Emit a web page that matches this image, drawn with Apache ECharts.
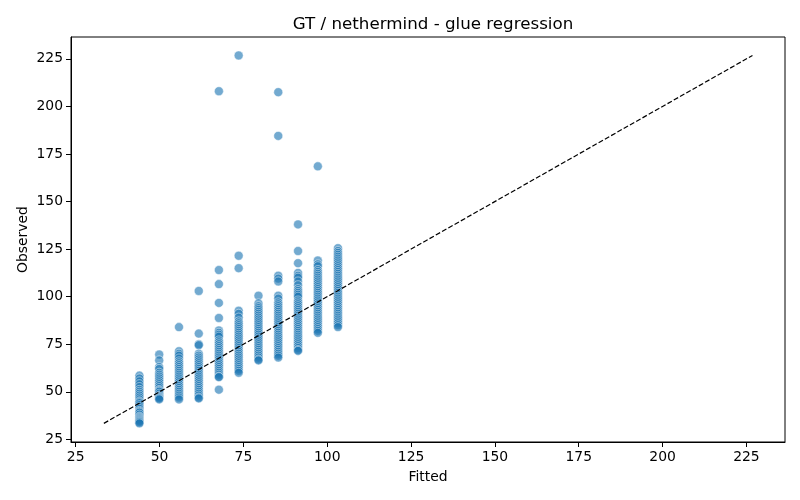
<!DOCTYPE html>
<html>
<head>
<meta charset="utf-8">
<script src="https://cdn.jsdelivr.net/npm/echarts@6/dist/echarts.min.js"></script>
<style>
  html, body { margin: 0; padding: 0; background: #fff; }
  #chart { width: 800px; height: 500px; }
</style>
</head>
<body>
<div id="chart"></div>
<script>
// fitted levels (one column of points per level)
var fitted = [44.0, 49.9, 55.8, 61.7, 67.7, 73.6, 79.5, 85.4, 91.3, 97.2, 103.2];

var obs1 = [58.5, 57, 55.5, 54, 52.5, 51, 50, 49, 48, 47, 46, 45, 44.5, 44, 43, 42, 41,
    40, 39.5, 39, 38, 37, 36.5, 36, 35.5, 35, 34.5, 34, 33.4];
var obs2 = [69.6, 66.5, 63, 62, 60, 59, 58, 57, 56, 55, 54, 53, 52, 51, 50.5, 50, 49, 48,
    47.5, 47, 46.5, 46];
var obs3 = [84, 71.3, 70, 69, 67.5, 66, 65, 64, 63, 62, 61, 60, 59, 58, 57, 56, 55, 54, 53,
    52, 51, 50, 49, 48, 47, 46];
var obs4 = [103, 80.6, 75, 74.5, 70, 69, 68, 67, 66, 65, 64, 63, 62, 61, 60, 59, 58, 57, 56,
    55, 54, 53, 52, 51, 50, 49, 48, 47, 46.5];
var obs5 = [208, 114, 106.6, 96.7, 88.8, 82.2, 81, 80, 79, 77, 76, 75, 74, 73, 72, 71, 70,
    69, 68, 67, 66, 65, 64, 63, 62, 61, 60, 59, 58, 57.7, 51.1];
var obs6 = [226.8, 121.5, 115, 92.6, 91, 89, 87, 86, 85, 84, 83, 82, 81, 80, 79, 78, 77, 76,
    75, 74, 73, 72, 71, 70, 69, 68, 67, 66, 65, 64, 63, 62, 61, 60];
var obs7 = [100.5, 96.5, 95, 94, 93, 92, 91, 90, 89, 88, 87, 86, 85, 84, 83, 82, 81, 80, 79,
    78, 77, 76, 75, 74, 73, 72, 71, 70, 69, 68, 67, 66.5];
var obs8 = [207.5, 184.5, 111, 109.5, 108, 100.5, 99, 97, 96, 95, 94, 93, 92, 91, 90, 89, 88,
    87, 86, 85, 84, 83, 82, 81, 80, 79, 78, 77, 76, 75, 74, 73, 72, 71, 70, 69, 68];
var obs9 = [138, 124, 117.6, 112.5, 111, 110, 108, 106, 104, 103, 102, 101, 100, 98, 97, 96,
    95, 94, 93, 92, 91, 90, 89, 88, 87, 86, 85, 84, 83, 82, 81, 80, 79, 78, 77, 76, 75, 74,
    73, 72, 71.5];
var obs10 = [168.5, 119, 117, 116, 114, 113, 112, 111, 110, 109, 108, 107, 106, 105, 104, 103,
    102, 101, 100, 99, 98, 97, 96, 95, 94, 93, 92, 91, 90, 89, 88, 87, 86, 85, 84, 83, 82, 81];
var obs11 = [125.5, 124, 123, 122, 121, 120, 119, 118, 117, 116, 115, 114, 113, 112, 111, 110,
    109, 108, 107, 106, 105, 104, 103, 102, 101, 100, 99, 98, 97, 96, 95, 94, 93, 92, 91, 90,
    89, 88, 87, 86, 85, 84];

var observedCols = [obs1, obs2, obs3, obs4, obs5, obs6, obs7, obs8, obs9, obs10, obs11];

// identity line end points and tick labels
var lineEnds = [33.4, 226.8];
var ticks = [25, 50, 75, 100, 125, 150, 175, 200, 225];

var points = [];
for (var i = 0; i < fitted.length; i++) {
    for (var j = 0; j < observedCols[i].length; j++) {
        points.push([fitted[i], observedCols[i][j]]);
    }
}

var font = 'DejaVu Sans';
var chart = echarts.init(document.getElementById('chart'));

function axis(name, gap, rotate) {
    return {
        type: 'value',
        min: 23.6,
        max: 236.5,
        name: name,
        nameLocation: 'middle',
        nameGap: gap,
        nameRotate: rotate,
        nameMoveOverlap: false,
        nameTextStyle: { color: '#000', fontSize: 13.9, fontFamily: font },
        splitLine: { show: false },
        axisLine: { show: true, onZero: false, lineStyle: { color: '#000', width: 1 } },
        axisTick: { show: true, inside: false, length: 5, customValues: ticks,
            lineStyle: { color: '#000', width: 1 } },
        axisLabel: { color: '#000', fontSize: 13.9, fontFamily: font, margin: 8,
            customValues: ticks }
    };
}

var option = {
    animation: false,
    backgroundColor: '#fff',
    title: {
        text: 'GT / nethermind - glue regression',
        left: 428,
        top: 11,
        textAlign: 'center',
        textStyle: { color: '#000', fontSize: 16.7, fontWeight: 'normal', fontFamily: font }
    },
    grid: {
        left: 71, right: 15, top: 37, bottom: 58,
        show: true, borderColor: '#000', borderWidth: 1, backgroundColor: 'transparent'
    },
    xAxis: axis('Fitted', 28, 0),
    yAxis: axis('Observed', 41, 90),
    series: [{
        type: 'scatter',
        data: points,
        symbolSize: 9,
        itemStyle: { color: 'rgba(31,119,180,0.78)', borderColor: 'rgba(255,255,255,0.85)', borderWidth: 0.7 },
        z: 2
    }, {
        type: 'line',
        data: [[lineEnds[0], lineEnds[0]], [lineEnds[1], lineEnds[1]]],
        symbol: 'none',
        lineStyle: { color: '#000', width: 1.2, type: [5, 2.2] },
        z: 3
    }]
};

chart.setOption(option);
</script>
</body>
</html>
